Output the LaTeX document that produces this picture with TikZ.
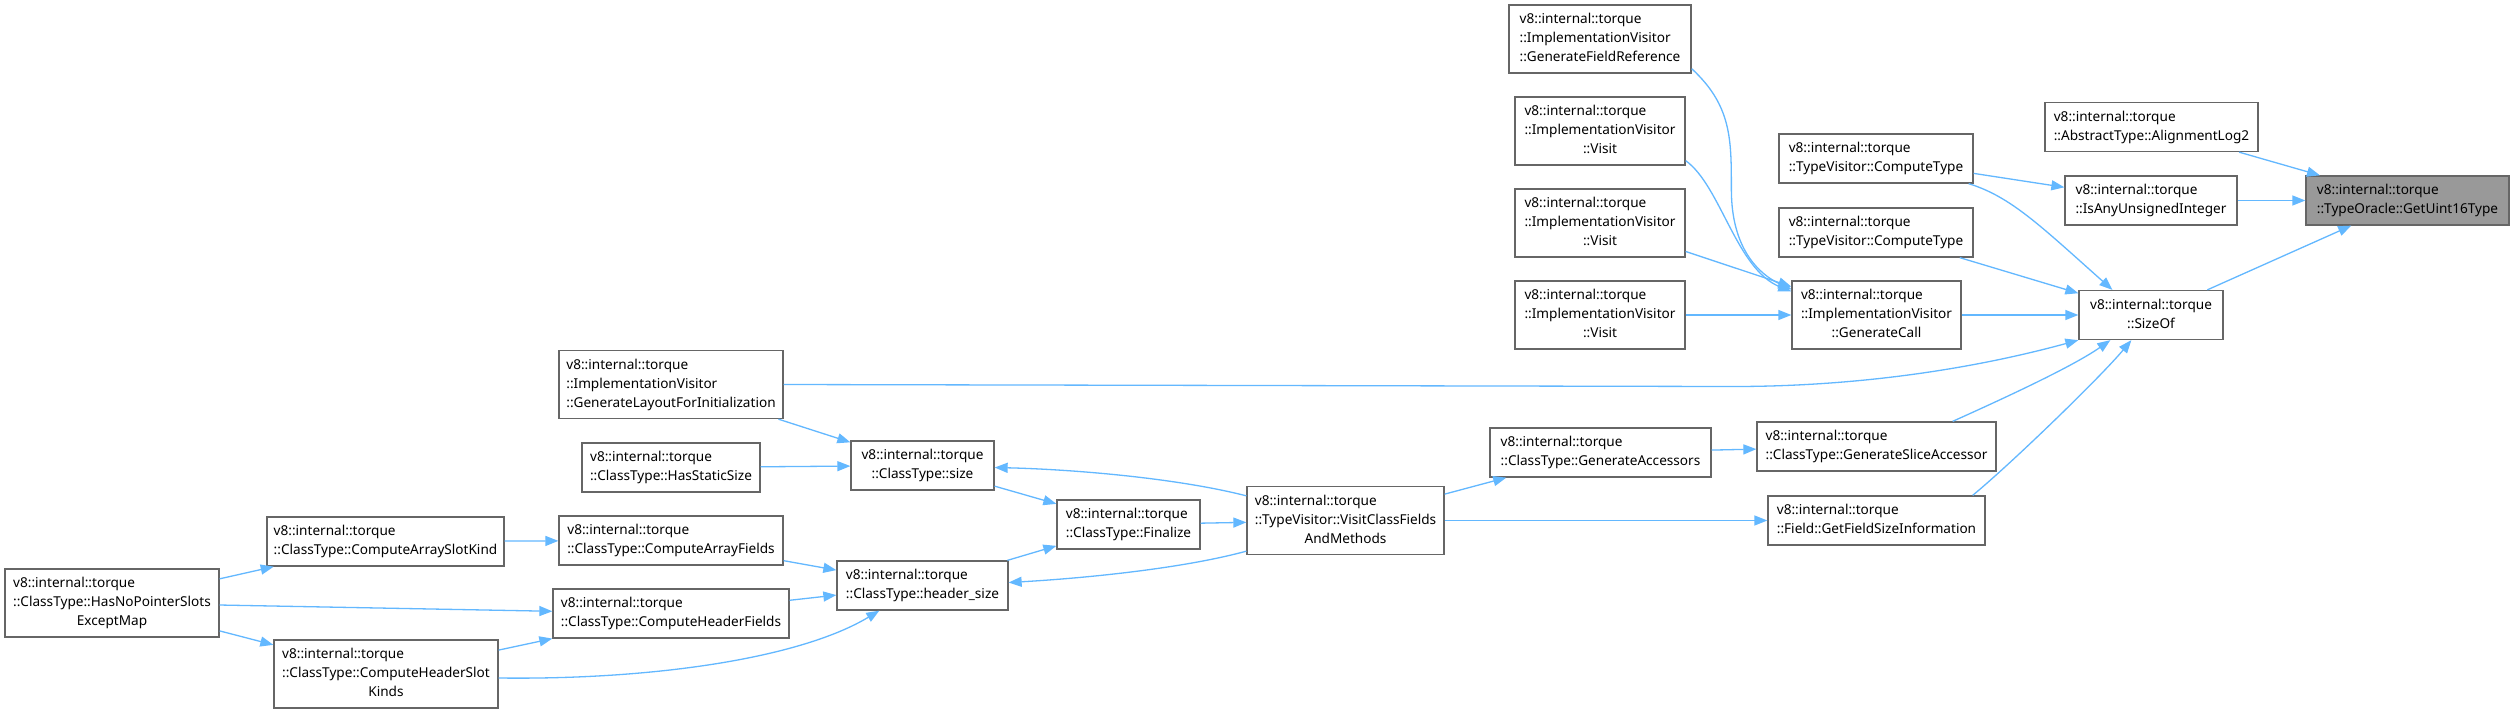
\documentclass[tikz,border=0pt]{standalone}
\usepackage{fontspec}
\setmainfont{Noto Sans}
\usetikzlibrary{arrows.meta,calc}
\definecolor{edgecol}{HTML}{63B8FF}
\definecolor{bordcol}{HTML}{666666}
\definecolor{hilite}{HTML}{999999}
\newcommand\LtwoX[2]{\begin{tabular}{@{}l@{}}#1\\\multicolumn{1}{@{}c@{}}{#2}\end{tabular}}
\newcommand\LthreeX[3]{\begin{tabular}{@{}l@{}}#1\\#2\\\multicolumn{1}{@{}c@{}}{#3}\end{tabular}}
\newcommand\vit{v8::internal::torque}
\begin{document}
\begin{tikzpicture}[x=1pt,y=-1pt,
  fnbox/.style={draw=bordcol, line width=1.3pt, fill=white, inner sep=0pt,
    font=\fontsize{13.6}{19}\selectfont},
  hbox/.style={fnbox, fill=hilite},
  edg/.style={draw=edgecol, line width=1.3pt, -{Triangle[length=13pt,width=10pt]}}]
\fill[white] (0,0) rectangle (2511,713);
\useasboundingbox (0,0) rectangle (2511,713);

% column 1600
\node[fnbox, minimum width=182pt, minimum height=68pt] (gfr) at (1600,39) {\LthreeX{\vit}{::ImplementationVisitor}{::GenerateFieldReference}};
\node[fnbox, minimum width=170pt, minimum height=68pt] (v1) at (1600,131) {\LthreeX{\vit}{::ImplementationVisitor}{::Visit}};
\node[fnbox, minimum width=170pt, minimum height=68pt] (v2) at (1600,223) {\LthreeX{\vit}{::ImplementationVisitor}{::Visit}};
\node[fnbox, minimum width=170pt, minimum height=68pt] (v3) at (1600,315) {\LthreeX{\vit}{::ImplementationVisitor}{::Visit}};
\node[fnbox, minimum width=221pt, minimum height=49pt] (ga) at (1600.5,452.5) {\LtwoX{\vit}{::ClassType::GenerateAccessors}};

% column 1876
\node[fnbox, minimum width=194pt, minimum height=49pt] (ct1) at (1876,158.5) {\LtwoX{\vit}{::TypeVisitor::ComputeType}};
\node[fnbox, minimum width=194pt, minimum height=49pt] (ct2) at (1876,232.5) {\LtwoX{\vit}{::TypeVisitor::ComputeType}};
\node[fnbox, minimum width=169pt, minimum height=68pt] (gc) at (1876.5,315) {\LthreeX{\vit}{::ImplementationVisitor}{::GenerateCall}};
\node[fnbox, minimum width=239pt, minimum height=49pt] (gsa) at (1876.5,446.5) {\LtwoX{\vit}{::ClassType::GenerateSliceAccessor}};
\node[fnbox, minimum width=217pt, minimum height=49pt] (gfs) at (1876.5,520.5) {\LtwoX{\vit}{::Field::GetFieldSizeInformation}};

% column 2151
\node[fnbox, minimum width=213pt, minimum height=49pt] (al) at (2151.5,127) {\LtwoX{\vit}{::AbstractType::AlignmentLog2}};
\node[fnbox, minimum width=172pt, minimum height=49pt] (iau) at (2151,200.5) {\LtwoX{\vit}{::IsAnyUnsignedInteger}};
\node[fnbox, minimum width=144pt, minimum height=49pt] (so) at (2151,315) {\LtwoX{\vit}{::SizeOf}};

% target
\node[hbox, minimum width=203pt, minimum height=49pt] (gu) at (2407.5,200.5) {\LtwoX{\vit}{::TypeOracle::GetUint16Type}};

% middle
\node[fnbox, minimum width=197pt, minimum height=68pt] (vc) at (1345.5,520.5) {\LthreeX{\vit}{::TypeVisitor::VisitClassFields}{AndMethods}};
\node[fnbox, minimum width=143pt, minimum height=49pt] (fin) at (1128.5,524.5) {\LtwoX{\vit}{::ClassType::Finalize}};
\node[fnbox, minimum width=143pt, minimum height=49pt] (sz) at (922.5,465.5) {\LtwoX{\vit}{::ClassType::size}};
\node[fnbox, minimum width=171pt, minimum height=49pt] (hs) at (922.5,585.5) {\LtwoX{\vit}{::ClassType::header\_size}};

% column 671
\node[fnbox, minimum width=224pt, minimum height=68pt] (gl) at (671,384.5) {\LthreeX{\vit}{::ImplementationVisitor}{::GenerateLayoutForInitialization}};
\node[fnbox, minimum width=178pt, minimum height=49pt] (hss) at (671,467.5) {\LtwoX{\vit}{::ClassType::HasStaticSize}};
\node[fnbox, minimum width=224pt, minimum height=49pt] (caf) at (671,540.5) {\LtwoX{\vit}{::ClassType::ComputeArrayFields}};
\node[fnbox, minimum width=236pt, minimum height=49pt] (chf) at (671,613.5) {\LtwoX{\vit}{::ClassType::ComputeHeaderFields}};

% column 386
\node[fnbox, minimum width=237pt, minimum height=49pt] (cask) at (385.5,541.5) {\LtwoX{\vit}{::ClassType::ComputeArraySlotKind}};
\node[fnbox, minimum width=224pt, minimum height=68pt] (chsk) at (386,674) {\LthreeX{\vit}{::ClassType::ComputeHeaderSlot}{Kinds}};

% column 112
\node[fnbox, minimum width=214pt, minimum height=68pt] (hnp) at (112,603) {\LthreeX{\vit}{::ClassType::HasNoPointerSlots}{ExceptMap}};

% straight edges
\draw[edg] (al) -- (gu);
\draw[edg] (iau) -- (gu);
\draw[edg] (so) -- (gu);
\draw[edg] (ct1) -- (iau);
\draw[edg] (ct2) -- (so);
\draw[edg] (gc) -- (so);
\draw[edg] (v2) -- (gc);
\draw[edg] (v3) -- (gc);
\draw[edg] (gl) -- (sz);
\draw[edg] (hss) -- (sz);
\draw[edg] (sz) -- (fin);
\draw[edg] (fin) -- (vc);
\draw[edg] (hs) -- (fin);
\draw[edg] (vc) -- (ga);
\draw[edg] (ga) -- (gsa);
\draw[edg] (vc) -- (gfs);
\draw[edg] (caf) -- (hs);
\draw[edg] (chf) -- (hs);
\draw[edg] (cask) -- (caf);
\draw[edg] (hnp) -- (cask);
\draw[edg] (hnp) -- (chf);
\draw[edg] (hnp) -- (chsk);
\draw[edg] (chsk) -- (chf);

% curved edges
\draw[edg] ($(ct1.south east)+(-5,0)$) .. controls +(42,13) and +(-73,-65) .. ($(so.north west)+(34,0)$);
\draw[edg] (gl.east) -- ($(gl.east)+(950,2)$) .. controls +(120,0) and +(-110,30) .. (so.south west);
\draw[edg] ($(gsa.north east)+(-44,0)$) .. controls +(40,-18) and +(-40,28) .. ($(so.south west)+(32,0)$);
\draw[edg] ($(gfs.north east)+(-13,0)$) .. controls +(40,-33) and +(-30,36) .. ($(so.south west)+(53,0)$);
\draw[edg] ($(gfr.south east)+(0,-5)$) .. controls +(40,37) and +(0,-50) .. ($(gc.north west)+(-60,-91)$)
   .. controls +(0,60) and +(-32,-15) .. ($(gc.north west)+(0,9)$);
\draw[edg] ($(v1.south east)+(0,-5)$) .. controls +(35,25) and +(-55,-22) .. ($(gc.north west)+(0,11)$);
\draw[edg] ($(vc.north west)+(0,10)$) .. controls +(-66,-17) and +(84,2) .. ($(sz.east)+(0,2)$);
\draw[edg] ($(vc.south west)+(0,-4)$) .. controls +(-66,18) and +(71,-4) .. ($(hs.east)+(0,-3)$);
\draw[edg] ($(chsk.east)+(0,4)$) .. controls +(153,2) and +(-80,48) .. ($(hs.south west)+(43,0)$);
\end{tikzpicture}
\end{document}
